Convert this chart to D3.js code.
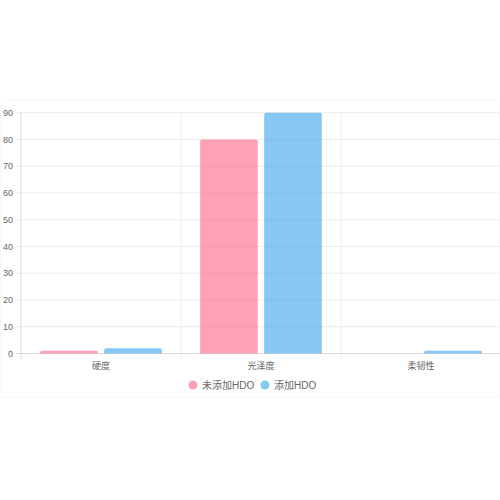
<!DOCTYPE html>
<html><head><meta charset="utf-8">
<script src="https://cdn.jsdelivr.net/npm/d3@7/dist/d3.min.js"></script>
<style>html,body{margin:0;padding:0;background:#fff;}svg{display:block;font-family:"Liberation Sans","Noto Sans CJK SC",sans-serif;}</style>
</head><body>
<svg id="chart" width="500" height="500"></svg>
<script>
const categories = ["硬度", "光泽度", "柔韧性"];
const seriesNames = ["未添加HDO", "添加HDO"];
const seriesNoHDO = [1, 80, 0];
const seriesHDO = [2, 90, 1];
const yTicks = [0, 10, 20, 30, 40, 50, 60, 70, 80, 90];
const colors = ["rgba(255,99,132,0.6)", "rgba(54,162,235,0.6)"];

(function () {
const svg = d3.select("#chart");
svg.append("rect").attr("x", 0.5).attr("y", 100.5).attr("width", 499).attr("height", 297)
  .attr("fill", "none").attr("stroke", "#f8f8f8");

const mLeft = 21, mRight = 501, mTop = 112.7, mBottom = 353.5;
const x = d3.scaleBand().domain(categories).range([mLeft, mRight]).paddingInner(0).paddingOuter(0);
const y = d3.scaleLinear().domain([0, 90]).range([mBottom, mTop]);

const g = svg.append("g");
g.selectAll("line.hg").data(yTicks).join("line")
  .attr("x1", mLeft - 5).attr("x2", mRight)
  .attr("y1", d => y(d)).attr("y2", d => y(d))
  .attr("stroke", d => d === 0 ? "#d9d9d9" : "#ebebeb").attr("stroke-width", 1);
const vx = categories.map(c => x(c)).concat([mRight]);
g.selectAll("line.vg").data(vx).join("line")
  .attr("x1", d => d).attr("x2", d => d)
  .attr("y1", mTop).attr("y2", mBottom + 6)
  .attr("stroke", (d, i) => i === 0 ? "#d9d9d9" : "#ebebeb");

g.selectAll("text.yl").data(yTicks).join("text")
  .attr("x", 13).attr("y", d => y(d)).attr("dy", "0.35em")
  .attr("text-anchor", "end").attr("font-size", 9).attr("fill", "#666")
  .text(d => d);

g.selectAll("text.xl").data(categories).join("text")
  .attr("x", d => x(d) + x.bandwidth() / 2).attr("y", 369)
  .attr("text-anchor", "middle").attr("font-size", 9).attr("fill", "#666")
  .text(d => d);

const catW = x.bandwidth() * 0.8;
const barW = catW / 2 * 0.9;
const data = [seriesNoHDO, seriesHDO];
data.forEach((vals, si) => {
  g.selectAll("path.b" + si).data(categories).join("path")
    .attr("class", "b" + si)
    .attr("fill", colors[si])
    .attr("d", (c, i) => {
      const cx = x(c) + x.bandwidth() / 2 - catW / 2 + catW / 4 + si * catW / 2;
      const x0 = cx - barW / 2, x1b = cx + barW / 2;
      const yt = y(vals[i]), yb = y(0);
      const h = yb - yt;
      if (h <= 0) return "";
      const r = Math.min(2, h / 2);
      return `M${x0},${yb}L${x0},${yt + r}Q${x0},${yt} ${x0 + r},${yt}L${x1b - r},${yt}Q${x1b},${yt} ${x1b},${yt + r}L${x1b},${yb}Z`;
    });
});

const legend = svg.append("g");
const legItems = [{ n: seriesNames[0], c: colors[0], cx: 193, tx: 202 }, { n: seriesNames[1], c: colors[1], cx: 265, tx: 274 }];
legItems.forEach(it => {
  legend.append("circle").attr("cx", it.cx).attr("cy", 385).attr("r", 4.5).attr("fill", it.c);
  legend.append("text").attr("x", it.tx).attr("y", 385).attr("dy", "0.35em")
    .attr("font-size", 10).attr("fill", "#666").text(it.n);
});
})();
</script>
</body></html>
